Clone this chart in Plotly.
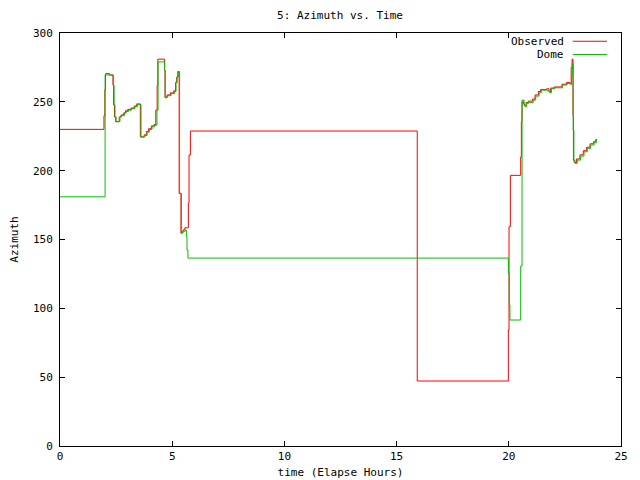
import plotly.graph_objects as go

# Observed azimuth (time in elapsed hours, azimuth in degrees)
obs_t = [0, 1.96, 2.00, 2.03, 2.20, 2.36, 2.39, 2.43, 2.48, 2.64, 2.72, 2.84, 2.92, 3.02, 3.16,
         3.31, 3.42, 3.58, 3.75, 3.85, 3.95, 4.07, 4.19, 4.27, 4.33, 4.36, 4.66, 4.68, 4.77, 4.92,
         5.07, 5.15, 5.20, 5.25, 5.31, 5.39, 5.43, 5.50, 5.56, 5.72, 5.75, 5.81, 15.92, 19.98,
         20.01, 20.07, 20.53, 20.56, 20.59, 20.66, 20.70, 20.77, 20.87, 21.06, 21.17, 21.32, 21.42,
         21.69, 21.79, 21.87, 22.02, 22.37, 22.57, 22.72, 22.78, 22.82, 22.86, 22.88, 22.91, 23.02,
         23.17, 23.32, 23.47, 23.62, 23.77, 23.87, 23.93]
obs_v = [230, 240, 259, 270.5, 269.5, 262, 247.7, 239, 235.6, 239, 240.5, 242, 243.5, 244.5, 245.5,
         247, 248.5, 224.5, 226, 228.5, 230.5, 232.5, 233.5, 244, 262, 281, 273, 253, 255, 256.5,
         258, 264, 268, 272, 183.5, 154.5, 156, 157, 158.5, 176.3, 211.4, 228.8, 47.2, 84.3,
         159.3, 196.6, 210, 235.6, 250, 248.5, 247.5, 249.5, 250.5, 252, 255, 257.5, 259,
         259.5, 257.5, 260, 260.8, 262.8, 264, 263.5, 275, 281, 240, 207.7, 206, 208.5,
         211.5, 214.5, 217, 219.5, 221, 222.5, 222.5]

# Dome azimuth
dome_t = [0, 2.01, 2.38, 2.41, 2.45, 2.50, 2.67, 2.75, 2.87, 2.95, 3.05, 3.19, 3.34, 3.45, 3.61,
          3.78, 3.88, 3.98, 4.10, 4.22, 4.32, 4.37, 4.66, 4.69, 4.80, 4.95, 5.10, 5.17, 5.22, 5.27,
          5.33, 5.41, 5.45, 5.52, 5.58, 5.63, 5.66, 5.70, 19.98, 20.02, 20.05, 20.53, 20.59, 20.68,
          20.72, 20.80, 20.90, 21.09, 21.20, 21.35, 21.45, 21.72, 21.82, 21.90, 22.05, 22.40, 22.60,
          22.75, 22.80, 22.83, 22.87, 22.90, 22.95, 23.05, 23.20, 23.35, 23.50, 23.65, 23.80, 23.90,
          23.93]
dome_v = [181, 269.5, 262, 247.7, 239, 235.6, 239, 240, 242, 243, 244, 245.2, 246.5, 248, 224.5,
          225.5, 228, 230, 232, 233, 244, 279, 273, 253.5, 254.5, 256, 257.5, 264, 268, 272,
          183.5, 154.5, 155.3, 156, 157, 152, 142.4, 136.5, 125.4, 102.4, 91.5, 130.7, 251.3, 247.7,
          246.5, 249, 249.6, 251.3, 254.2, 256.6, 258.5, 258, 256.8, 259.7, 260.2, 262.2, 263.4,
          262.6, 269, 277.7, 229.5, 207.7, 205.3, 207.7, 210.6, 213.7, 216.2, 218.6, 220.3, 222.3,
          222.3]

x_ticks = [0, 5, 10, 15, 20, 25]
y_ticks = [0, 50, 100, 150, 200, 250, 300]

RED = "#ff0000"
GREEN = "#00c000"
FONT = "DejaVu Sans Mono"
FS = 11

fig = go.Figure()
fig.add_trace(go.Scatter(x=obs_t, y=obs_v, mode="lines", name="Observed",
                         line=dict(color=RED, width=1, shape="hv")))
fig.add_trace(go.Scatter(x=dome_t, y=dome_v, mode="lines", name="Dome",
                         line=dict(color=GREEN, width=1, shape="hv")))

fig.update_layout(
    width=640, height=480,
    margin=dict(l=60, r=19, t=33, b=34, autoexpand=False),
    plot_bgcolor="white", paper_bgcolor="white",
    font=dict(family=FONT, size=FS, color="black"),
    showlegend=False,
    title=dict(text="5: Azimuth vs. Time", x=340 / 640, xanchor="center",
               y=1 - 15 / 480, yanchor="middle", font=dict(family=FONT, size=FS)),
)
fig.update_xaxes(range=[0, 25], tickvals=x_ticks, ticktext=[str(v) for v in x_ticks],
                 ticks="inside", ticklen=5, tickcolor="black", automargin=False,
                 tickfont=dict(family=FONT, size=FS),
                 showline=True, linecolor="black", linewidth=1, mirror="ticks",
                 showgrid=False, zeroline=False,
                 title=dict(text="time (Elapse Hours)", standoff=6,
                            font=dict(family=FONT, size=FS)))
fig.update_yaxes(range=[0, 300], tickvals=y_ticks, ticktext=[str(v) for v in y_ticks],
                 ticks="inside", ticklen=5, tickcolor="black", automargin=False,
                 tickfont=dict(family=FONT, size=FS),
                 showline=True, linecolor="black", linewidth=1, mirror="ticks",
                 showgrid=False, zeroline=False, ticklabelstandoff=4,
                 title=dict(text="Azimuth", standoff=12,
                            font=dict(family=FONT, size=FS)))

# gnuplot-style legend: text right-aligned, line sample to the right
legend_items = [("Observed", RED, 0.980), ("Dome", GREEN, 0.948)]
for label, color, ypos in legend_items:
    fig.add_annotation(x=0.902, y=ypos, xref="paper", yref="paper", text=label,
                       showarrow=False, xanchor="right", yanchor="middle", height=10,
                       font=dict(family=FONT, size=FS, color="black"))
    fig.add_shape(type="line", xref="paper", yref="paper", x0=0.914, x1=0.975,
                  y0=ypos, y1=ypos, line=dict(color=color, width=1))

fig.write_html("out.html", config={"displayModeBar": False},
               post_script="document.body.style.margin='0';document.body.style.padding='0';")
